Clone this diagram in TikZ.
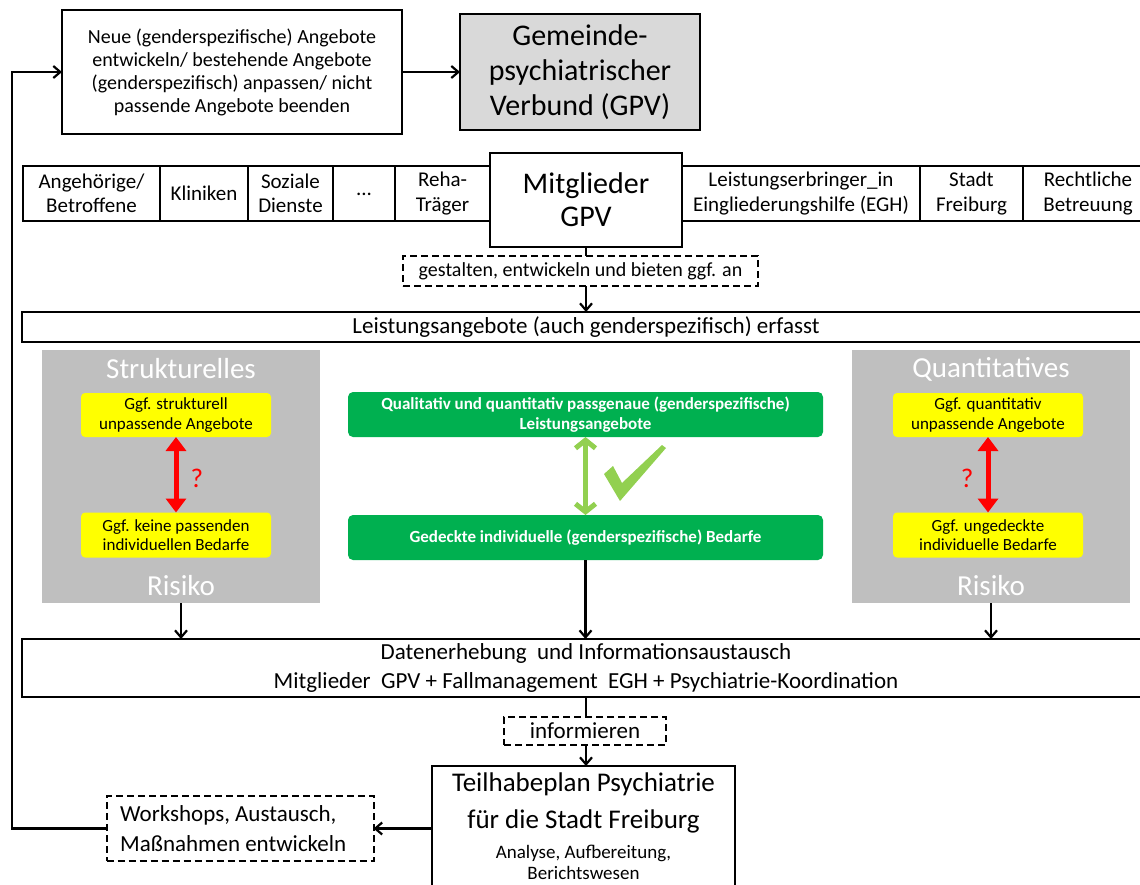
\documentclass[tikz,border=0pt]{standalone}
\usepackage{fontspec}
\setmainfont{Carlito}
\usetikzlibrary{arrows.meta}
\definecolor{gpvgray}{HTML}{D9D9D9}
\definecolor{panelgray}{HTML}{BFBFBF}
\definecolor{okgreen}{HTML}{00B050}
\definecolor{lightgreen}{HTML}{92D050}
\definecolor{warnyellow}{HTML}{FFFF00}
\definecolor{warnred}{HTML}{FF0000}
\newcommand{\fsz}[2]{\fontsize{#1}{#2}\selectfont}
\begin{document}
\begin{tikzpicture}[x=1pt,y=-1pt,
  box/.style={draw, line width=2.4pt, inner sep=0pt, outer sep=0pt, align=center},
  dbox/.style={draw, dash pattern=on 7pt off 4pt, line width=2pt, inner sep=0pt, outer sep=0pt, align=center},
  cell/.style={draw, line width=2pt, inner sep=0pt, outer sep=0pt, minimum height=55pt, align=center, font=\fsz{21}{24.5}},
  bar/.style={draw, line width=2.4pt, inner sep=0pt, outer sep=0pt, minimum width=1128pt, align=center},
  panel/.style={fill=panelgray, inner sep=0pt, outer sep=0pt, minimum width=278pt, minimum height=253pt},
  ptitle/.style={text=white, font=\fsz{29}{32}, inner sep=0pt},
  warn/.style={fill=warnyellow, rounded corners=4pt, inner sep=0pt, outer sep=0pt, minimum width=190pt, align=center, font=\fsz{17}{19.5}},
  good/.style={fill=okgreen, rounded corners=5pt, inner sep=0pt, outer sep=0pt, minimum width=475pt, text=white, align=center, font=\fsz{17}{19.5}\bfseries},
  arr/.style={line width=2.2pt, -{Straight Barb[length=7pt,width=12pt,line width=2.2pt]}},
  redarr/.style={draw=warnred, line width=5pt, {Triangle[length=14pt,width=20pt]}-{Triangle[length=14pt,width=20pt]}},
  greenarr/.style={draw=lightgreen, line width=5pt, {Straight Barb[length=8pt,width=20pt,line width=5pt]}-{Straight Barb[length=8pt,width=20pt,line width=5pt]}},
  qmark/.style={text=warnred, font=\fsz{27}{30}, inner sep=0pt}
]
\useasboundingbox (0,0) rectangle (1140,884);

% top
\node[box, minimum width=340pt, minimum height=124pt, font=\fsz{20}{23}] (b1) at (232,72)
  {Neue (genderspezifische) Angebote\\entwickeln/ bestehende Angebote\\(genderspezifisch) anpassen/ nicht\\passende Angebote beenden};
\node[box, fill=gpvgray, minimum width=240pt, minimum height=116pt, font=\fsz{30}{35}] (gpv) at (580,72)
  {Gemeinde-\\psychiatrischer\\Verbund (GPV)};
\draw[arr] (b1.east) -- (gpv.west);

% member row
\node[cell, minimum width=137pt] (c1) at (91.5,193.5) {Angehörige/\\Betroffene};
\node[cell, minimum width=88pt] (c2) at (204,193.5) {Kliniken};
\node[cell, minimum width=85pt] (c3) at (290.5,193.5) {Soziale\\Dienste};
\node[cell, minimum width=62pt] (c4) at (364,193.5) {\raisebox{-5pt}{...}};
\node[cell, minimum width=95pt] (c5) at (442.5,193.5) {Reha-\\Träger};
\node[cell, minimum width=238pt] (c6) at (801,193.5) {Leistungserbringer\_in\\Eingliederungshilfe (EGH)};
\node[cell, minimum width=103pt] (c7) at (971.5,193.5) {Stadt\\Freiburg};
\node[cell, minimum width=130pt] (c8) at (1088,193.5) {Rechtliche\\Betreuung};
\node[box, fill=white, minimum width=192pt, minimum height=94pt, font=\fsz{30}{33}] (mg) at (586,200) {Mitglieder\\GPV};

\node[dbox, minimum width=355pt, minimum height=30pt, font=\fsz{20}{22}] (gest) at (580.5,271) {gestalten, entwickeln und bieten ggf. an};
\draw[line width=2.2pt] (mg.south) -- (mg.south |- gest.north);
\node[bar, minimum height=30pt, font=\fsz{23}{25}] (la) at (586,327) {Leistungsangebote\ (auch genderspezifisch)\ erfasst};
\draw[arr] (mg.south |- gest.south) -- (mg.south |- la.north);

% left panel
\node[panel] (lp) at (181,476.5) {};
\node[ptitle] (lpt) at (181,369) {Strukturelles};
\node[ptitle] (lpr) at (181,586) {Risiko};
\node[warn, minimum height=44pt] (ly1) at (176,415) {Ggf. strukturell\\unpassende Angebote};
\node[warn, minimum height=45pt] (ly2) at (176,535) {Ggf. keine passenden\\individuellen Bedarfe};
\draw[redarr] (ly1.south) -- (ly2.north);
\node[qmark] (lq) at (197,478) {?};

% right panel
\node[panel] (rp) at (991,476.5) {};
\node[ptitle] (rpt) at (991,369) {Quantitatives};
\node[ptitle] (rpr) at (991,586) {Risiko};
\node[warn, minimum height=44pt] (ry1) at (988,415) {Ggf. quantitativ\\unpassende Angebote};
\node[warn, minimum height=45pt] (ry2) at (988,535) {Ggf. ungedeckte\\individuelle Bedarfe};
\draw[redarr] (ry1.south) -- (ry2.north);
\node[qmark] (rq) at (967,478) {?};

% middle green
\node[good, minimum height=45pt] (g1) at (585.5,414.5) {Qualitativ und quantitativ passgenaue (genderspezifische)\\Leistungsangebote};
\node[good, minimum height=45pt] (g2) at (585.5,537.5) {Gedeckte individuelle (genderspezifische) Bedarfe};
\draw[greenarr] (g1.south) -- (g2.north);
\fill[lightgreen] (604,474) -- (613,466) -- (622,483) -- (662,445) -- (666,448) -- (620,501) -- cycle;

% data bar
\node[bar, minimum height=58pt, font=\fsz{23}{29}] (de) at (586,668)
  {Datenerhebung\ \ und Informationsaustausch\\Mitglieder\ \ GPV + Fallmanagement\ \ EGH + Psychiatrie-Koordination};
\draw[arr] (lp.south) -- (lp.south |- de.north);
\draw[arr] (g2.south) -- (g2.south |- de.north);
\draw[arr] (rp.south) -- (rp.south |- de.north);

% bottom
\node[dbox, minimum width=162pt, minimum height=28pt, font=\fsz{23}{25}] (inf) at (585,731) {informieren};
\draw[line width=2.2pt] (de.south) -- (de.south |- inf.north);
\node[box, minimum width=303pt, minimum height=135pt] (tp) at (583.5,833.5) {};
\node[inner sep=0pt, align=center, font=\fsz{27}{37}] (tpt) at (583.5,803) {Teilhabeplan Psychiatrie\\für die Stadt Freiburg};
\node[inner sep=0pt, align=center, font=\fsz{19}{21}] (tps) at (583.5,862) {Analyse, Aufbereitung,\\Berichtswesen};
\draw[arr] (de.south |- inf.south) -- (de.south |- tp.north);

\node[dbox, minimum width=267pt, minimum height=65pt] (ws) at (240,828.5) {};
\node[inner sep=0pt, anchor=west, align=left, font=\fsz{23}{30}] (wst) at (120,828.5) {Workshops,\ Austausch,\\Maßnahmen\ entwickeln};
\draw[arr] (tp.west |- ws.east) -- (ws.east);
\coordinate (fb) at (12,828.5);
\draw[arr] (ws.west) -- (fb) |- (b1.west);
\end{tikzpicture}
\end{document}
